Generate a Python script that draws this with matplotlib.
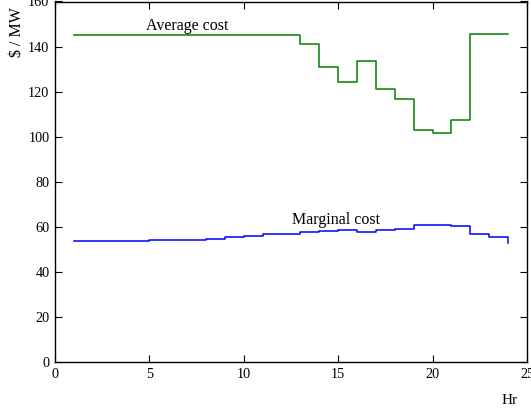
import matplotlib
matplotlib.use("Agg")
import matplotlib.pyplot as plt

hours = list(range(1, 25))
average_cost = [145, 145, 145, 145, 145, 145, 145, 145, 145, 145, 145, 145,
                141, 131, 124.4, 133.4, 121.2, 116.8, 102.8, 101.6, 107.4,
                145.4, 145.4, 145.4]
marginal_cost = [53.6, 53.6, 53.6, 53.6, 54.2, 54.2, 54.2, 54.7, 55.5, 56.1,
                 56.6, 57.0, 57.5, 58.1, 58.5, 57.9, 58.5, 59.1, 60.9, 60.9,
                 60.4, 56.9, 55.3, 52.9]
x_ticks = [0, 5, 10, 15, 20, 25]
y_ticks = [0, 20, 40, 60, 80, 100, 120, 140, 160]

plt.rcParams['font.family'] = ['Liberation Serif', 'DejaVu Serif']

fig = plt.figure(figsize=(5.31, 4.13), dpi=100)
ax = fig.add_axes([55/531, 51/413, 472/531, 360.5/413])

ax.step(hours, average_cost, where='post', color='#008000', linewidth=1.1)
ax.step(hours, marginal_cost, where='post', color='#0000ff', linewidth=1.1)

ax.set_xlim(0, 25)
ax.set_ylim(0, 160)
ax.set_xticks(x_ticks)
ax.set_yticks(y_ticks)
ax.tick_params(direction='in', length=5, width=0.8, top=True, right=True,
               labelsize=10.3, pad=4)
for s in ax.spines.values():
    s.set_linewidth(1.0)

ax.text(7, 147.2, 'Average cost', ha='center', va='baseline', fontsize=11.5)
ax.text(14.9, 61.2, 'Marginal cost', ha='center', va='baseline', fontsize=11.5)

fig.text(17/531, 1 - 32/413, '$ / MW', rotation=90, ha='center', va='center',
         fontsize=11.5)
fig.text(510/531, 1 - 400/413, 'Hr', ha='center', va='center', fontsize=11)

fig.savefig('out.png', dpi=100)
